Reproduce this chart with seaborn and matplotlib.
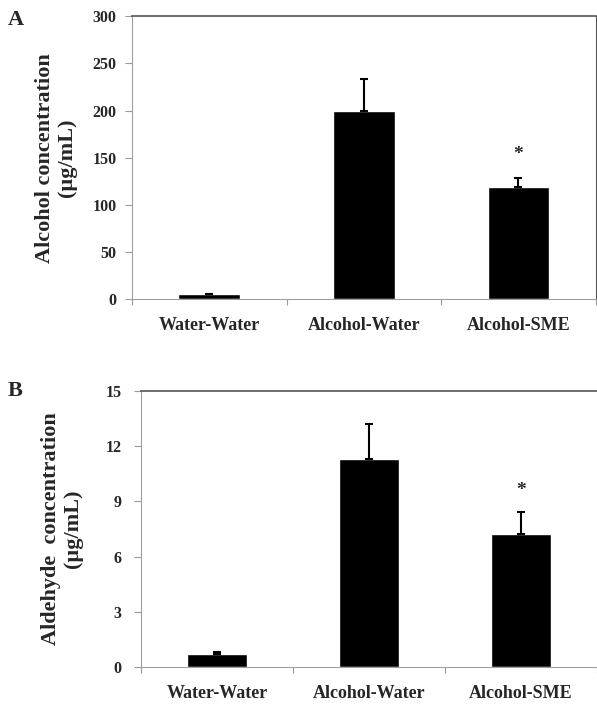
import matplotlib
matplotlib.use("Agg")
import matplotlib.pyplot as plt
import seaborn as sns
import pandas as pd

# data
groups = ["Water-Water", "Alcohol-Water", "Alcohol-SME"]
alcohol_mean = [5, 199, 119]
alcohol_err = [1, 34, 10]
aldehyde_mean = [0.7, 11.3, 7.25]
aldehyde_err = [0.12, 1.9, 1.2]
alcohol_ticks = [0, 50, 100, 150, 200, 250, 300]
aldehyde_ticks = [0, 3, 6, 9, 12, 15]

sns.set_style("white")
plt.rcParams['font.family'] = ['Liberation Serif', 'DejaVu Serif']
plt.rcParams['font.weight'] = 'bold'

fig = plt.figure(figsize=(5.97, 7.04), dpi=100)
ax_a = fig.add_axes([0.221, 0.575, 0.777, 0.402])
ax_b = fig.add_axes([0.236, 0.0526, 0.764, 0.392])


def draw_panel(ax, means, errs, ticks, ylabel, star_y, right_spine, labelpad, ypad):
    df = pd.DataFrame({"group": groups, "value": means})
    sns.barplot(data=df, x="group", y="value", color="black", width=0.4,
                saturation=1, ax=ax)
    # upper error bars only
    ax.errorbar(range(len(groups)), means, yerr=[[0] * len(errs), errs],
                fmt="none", ecolor="black", elinewidth=1.5, capsize=3,
                capthick=1.5)
    ax.text(2, star_y, "*", ha="center", va="center", fontsize=14,
            fontweight="bold")
    ax.set_xlim(-0.5, 2.5)
    ax.set_ylim(ticks[0], ticks[-1])
    ax.set_yticks(ticks)
    ax.set_xticks([-0.5, 0.5, 1.5, 2.5], minor=False)
    ax.set_xticklabels([])
    ax.set_xticks([0, 1, 2], minor=True)
    ax.set_xticklabels(groups, minor=True, fontsize=13, fontweight="bold")
    ax.tick_params(axis="x", which="minor", length=0, pad=13)
    ax.tick_params(axis="x", which="major", direction="out", length=4,
                   color="#9a9a9a", bottom=True)
    ax.tick_params(axis="y", direction="out", length=5, color="#9a9a9a",
                   left=True, labelsize=11.5, pad=ypad)
    for lab in ax.get_yticklabels():
        lab.set_fontweight("bold")
    ax.set_xlabel("")
    ax.set_ylabel(ylabel, fontsize=16, fontweight="bold", labelpad=labelpad,
                  linespacing=1.15)
    ax.spines["left"].set_color("#a0a0a0")
    ax.spines["bottom"].set_color("#a0a0a0")
    ax.spines["top"].set_color("#555555")
    ax.spines["top"].set_linewidth(1.2)
    ax.spines["right"].set_color("#555555")
    ax.spines["right"].set_visible(right_spine)


draw_panel(ax_a, alcohol_mean, alcohol_err, alcohol_ticks,
           "Alcohol concentration\n(\u00b5g/mL)", 153, True, 11, 6)
draw_panel(ax_b, aldehyde_mean, aldehyde_err, aldehyde_ticks,
           "Aldehyde  concentration\n(\u00b5g/mL)", 9.6, False, 16, 9)

fig.text(0.013, 0.972, "A", fontsize=16, fontweight="bold", va="center")
fig.text(0.013, 0.444, "B", fontsize=16, fontweight="bold", va="center")

fig.savefig("out.png", dpi=100)
